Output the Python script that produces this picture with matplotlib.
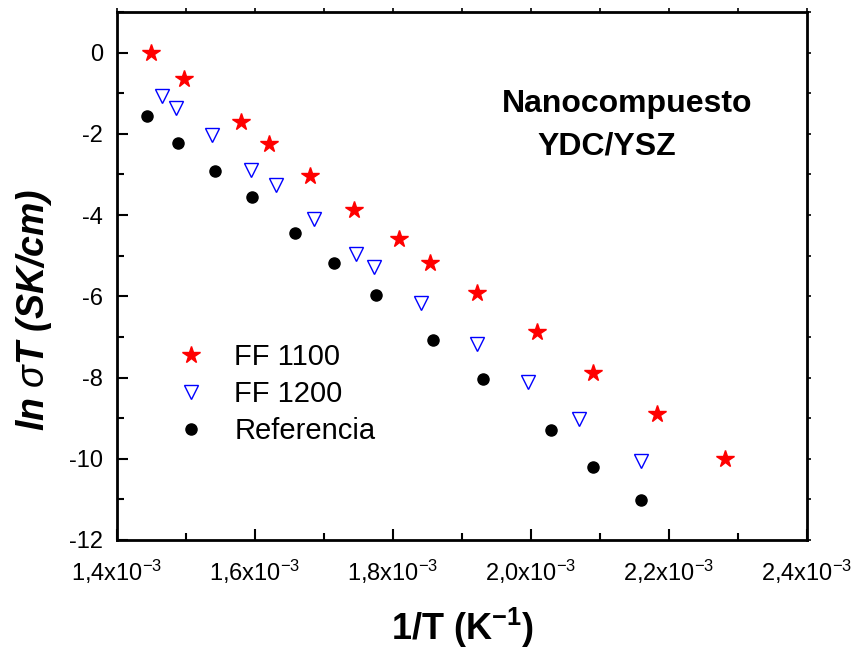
import numpy as np
import matplotlib
matplotlib.use("Agg")
import matplotlib.pyplot as plt
from matplotlib.ticker import MultipleLocator, FuncFormatter

plt.rcParams['font.family'] = ['Liberation Sans', 'DejaVu Sans']
plt.rcParams['mathtext.fontset'] = 'custom'
plt.rcParams['mathtext.rm'] = 'Liberation Sans'
plt.rcParams['mathtext.it'] = 'Liberation Sans:italic'
plt.rcParams['mathtext.bf'] = 'Liberation Sans:bold'

# 1/T in units of 1e-3 K^-1, ln(sigma*T)
x_ff1100 = [1.450, 1.497, 1.579, 1.620, 1.679, 1.744, 1.808, 1.854, 1.921,
            2.009, 2.090, 2.182, 2.281]
y_ff1100 = [0.00, -0.65, -1.71, -2.24, -3.04, -3.87, -4.58, -5.19, -5.93,
            -6.87, -7.88, -8.89, -10.00]

x_ff1200 = [1.465, 1.486, 1.538, 1.594, 1.631, 1.686, 1.746, 1.772, 1.841,
            1.921, 1.995, 2.070, 2.159]
y_ff1200 = [-1.08, -1.36, -2.04, -2.90, -3.27, -4.10, -4.96, -5.27, -6.17,
            -7.17, -8.10, -9.02, -10.05]

x_ref = [1.444, 1.488, 1.542, 1.595, 1.658, 1.715, 1.775, 1.858, 1.930,
         2.029, 2.090, 2.159]
y_ref = [-1.56, -2.22, -2.91, -3.55, -4.43, -5.19, -5.96, -7.08, -8.04,
         -9.30, -10.20, -11.01]

labels = ['FF 1100', 'FF 1200', 'Referencia']

fig = plt.figure(figsize=(8.54, 6.49), dpi=100)
ax = fig.add_axes([0.137, 0.168, 0.808, 0.8135])

ax.plot(np.array(x_ff1100) * 1e-3, y_ff1100, ls='none', marker='*',
        ms=13, color='#ff0000', mec='#ff0000', label=labels[0])
ax.plot(np.array(x_ff1200) * 1e-3, y_ff1200, ls='none', marker='v',
        ms=10, mfc='white', mec='#0000ff', mew=1.0, label=labels[1])
ax.plot(np.array(x_ref) * 1e-3, y_ref, ls='none', marker='o',
        ms=8, color='black', label=labels[2])

ax.set_xlim(1.4e-3, 2.4e-3)
ax.set_ylim(-12, 1)

ax.xaxis.set_major_locator(MultipleLocator(0.2e-3))
ax.xaxis.set_minor_locator(MultipleLocator(0.1e-3))
ax.yaxis.set_major_locator(MultipleLocator(2))
ax.yaxis.set_minor_locator(MultipleLocator(1))


def fmt_x(v, pos):
    return ('%.1f' % (v * 1e3)).replace('.', ',') + r'x10$^{-3}$'


ax.xaxis.set_major_formatter(FuncFormatter(fmt_x))
ax.yaxis.set_major_formatter(FuncFormatter(lambda v, p: '%d' % v))

ax.tick_params(which='both', direction='in', width=1.5, labelsize=17)
ax.tick_params(which='major', length=8)
ax.tick_params(which='minor', length=5)
ax.tick_params(axis='x', pad=13)
ax.tick_params(axis='y', pad=10)
for sp in ax.spines.values():
    sp.set_linewidth(2)

# short ticks on the top and right edges
top = ax.secondary_xaxis('top')
top.xaxis.set_major_locator(MultipleLocator(0.1e-3))
top.tick_params(direction='out', length=3, width=1.2, labeltop=False)
right = ax.secondary_yaxis('right')
right.yaxis.set_major_locator(MultipleLocator(1))
right.tick_params(direction='out', length=3, width=1.2, labelright=False)

ax.set_xlabel(r'1/T (K$^{\mathbf{-1}}$)', fontsize=26, fontweight='bold',
              labelpad=14)
ax.set_ylabel(r'ln $\sigma$T (SK/cm)', fontsize=27, fontweight='bold',
              fontstyle='italic')
ax.yaxis.set_label_coords(-0.092, 0.436)

ax.text(0.558, 0.811, 'Nanocompuesto', transform=ax.transAxes,
        fontsize=23, fontweight='bold', va='baseline', ha='left')
ax.text(0.610, 0.731, 'YDC/YSZ', transform=ax.transAxes,
        fontsize=23, fontweight='bold', va='baseline', ha='left')

ax.legend(loc='upper left', bbox_to_anchor=(0.056, 0.411), frameon=False,
          fontsize=21, handlelength=1.0, handletextpad=1.0,
          labelspacing=0.3, borderpad=0.2, numpoints=1)

fig.savefig('out.png', dpi=100)
